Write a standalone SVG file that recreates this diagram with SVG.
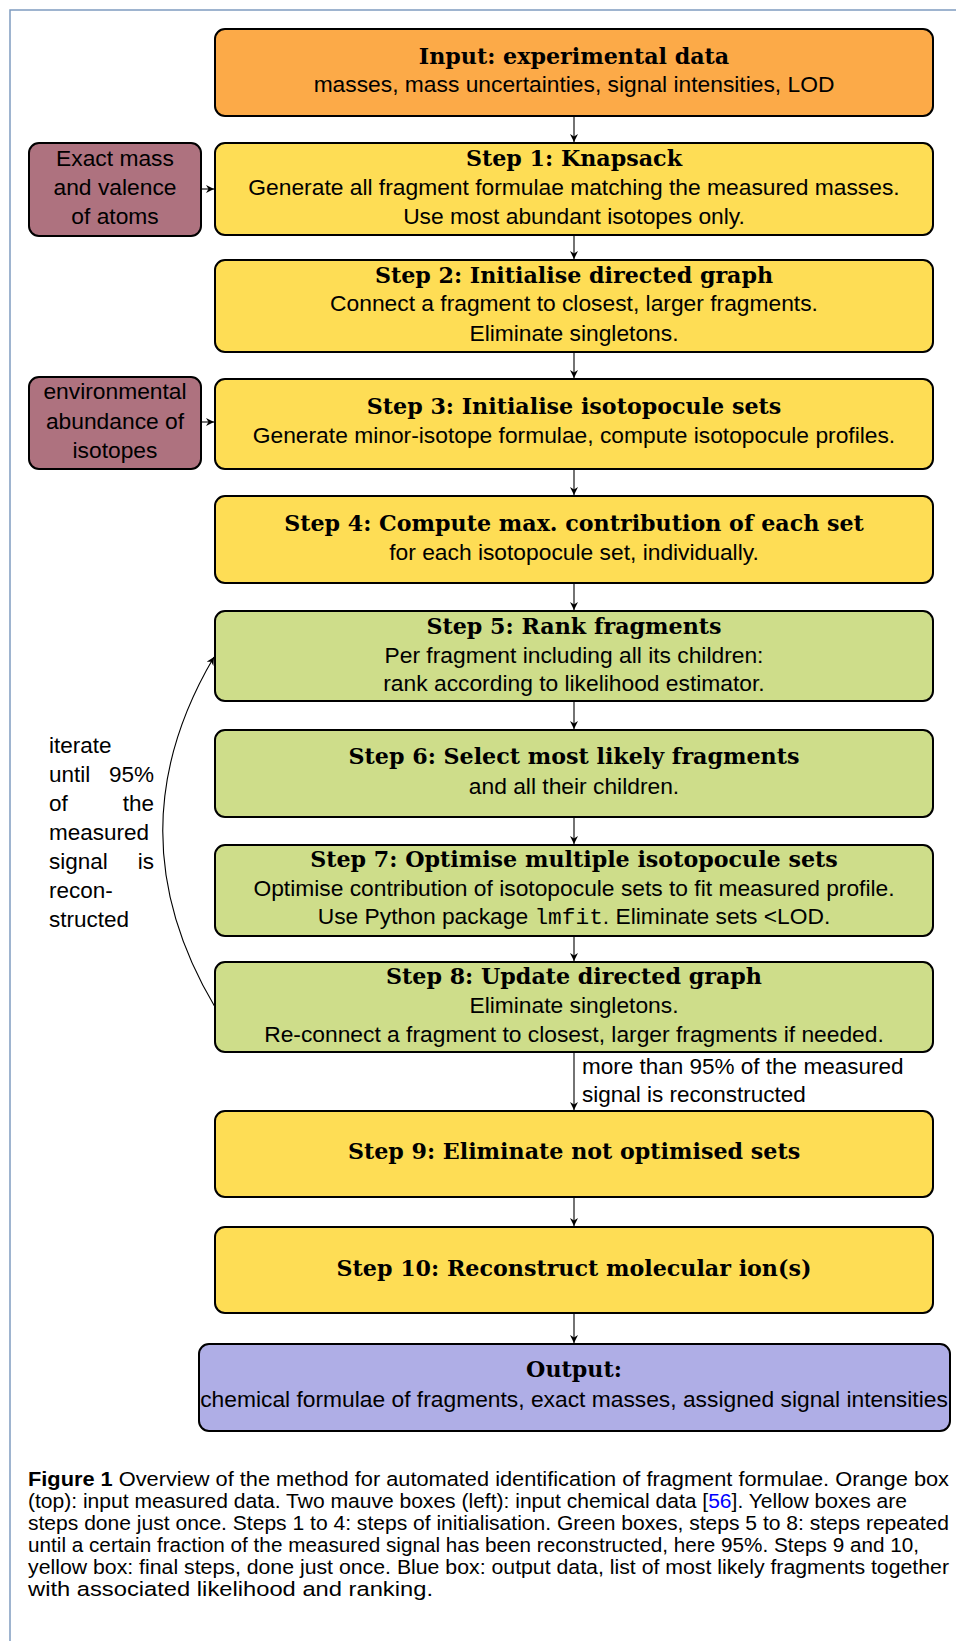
<svg xmlns="http://www.w3.org/2000/svg" width="956" height="1641" viewBox="0 0 956 1641">
<style>
.box{stroke:#000;stroke-width:2;}
.or{fill:#FCAA48;}
.ye{fill:#FEDD55;}
.gr{fill:#CEDD8A;}
.mv{fill:#AE727F;}
.bl{fill:#AFAEE6;}
.t{font-family:"DejaVu Serif",serif;font-weight:bold;font-size:22.2px;text-anchor:middle;fill:#000;}
.b{font-family:"Liberation Sans",Arial,sans-serif;font-size:22.8px;text-anchor:middle;fill:#000;}
.l{font-family:"Liberation Sans",Arial,sans-serif;font-size:22.5px;fill:#000;}
.c{font-family:"Liberation Sans",Arial,sans-serif;font-size:20.5px;fill:#000;}
.con{stroke:#000;stroke-width:1.1;fill:none;}
</style>
<defs>
<marker id="ah" markerWidth="10" markerHeight="10" refX="8" refY="4" orient="auto" markerUnits="userSpaceOnUse">
<path d="M0,0 L8,4 L0,8 L2.5,4 z" fill="#000"/>
</marker>
</defs>
<rect width="956" height="1641" fill="#fff"/>
<path d="M10,1641 V10 H956" fill="none" stroke="#7f9cc0" stroke-width="1.5"/>

<g id="input">
<rect class="box or" x="215" y="29" width="718" height="87" rx="10"/>
<text class="t" x="574" y="64">Input: experimental data</text>
<text class="b" x="574" y="92">masses, mass uncertainties, signal intensities, LOD</text>
</g>
<g id="step1">
<rect class="box ye" x="215" y="143" width="718" height="92" rx="10"/>
<text class="t" x="574" y="166">Step 1: Knapsack</text>
<text class="b" x="574" y="195">Generate all fragment formulae matching the measured masses.</text>
<text class="b" x="574" y="223.5">Use most abundant isotopes only.</text>
</g>
<g id="mass">
<rect class="box mv" x="29" y="143" width="172" height="93" rx="10"/>
<text class="b" x="115" y="166">Exact mass</text>
<text class="b" x="115" y="195">and valence</text>
<text class="b" x="115" y="223.5">of atoms</text>
</g>
<g id="step2">
<rect class="box ye" x="215" y="260" width="718" height="92" rx="10"/>
<text class="t" x="574" y="283">Step 2: Initialise directed graph</text>
<text class="b" x="574" y="311">Connect a fragment to closest, larger fragments.</text>
<text class="b" x="574" y="340.5">Eliminate singletons.</text>
</g>
<g id="step3">
<rect class="box ye" x="215" y="379" width="718" height="90" rx="10"/>
<text class="t" x="574" y="414">Step 3: Initialise isotopocule sets</text>
<text class="b" x="574" y="443">Generate minor-isotope formulae, compute isotopocule profiles.</text>
</g>
<g id="abund">
<rect class="box mv" x="29" y="377" width="172" height="92" rx="10"/>
<text class="b" x="115" y="399">environmental</text>
<text class="b" x="115" y="428.5">abundance of</text>
<text class="b" x="115" y="458">isotopes</text>
</g>
<g id="step4">
<rect class="box ye" x="215" y="496" width="718" height="87" rx="10"/>
<text class="t" x="574" y="531">Step 4: Compute max. contribution of each set</text>
<text class="b" x="574" y="560">for each isotopocule set, individually.</text>
</g>
<g id="step5">
<rect class="box gr" x="215" y="611" width="718" height="90" rx="10"/>
<text class="t" x="574" y="633.5">Step 5: Rank fragments</text>
<text class="b" x="574" y="663">Per fragment including all its children:</text>
<text class="b" x="574" y="691">rank according to likelihood estimator.</text>
</g>
<g id="step6">
<rect class="box gr" x="215" y="730" width="718" height="87" rx="10"/>
<text class="t" x="574" y="764">Step 6: Select most likely fragments</text>
<text class="b" x="574" y="793.5">and all their children.</text>
</g>
<g id="step7">
<rect class="box gr" x="215" y="845" width="718" height="91" rx="10"/>
<text class="t" x="574" y="867">Step 7: Optimise multiple isotopocule sets</text>
<text class="b" x="574" y="896">Optimise contribution of isotopocule sets to fit measured profile.</text>
<text class="b" x="574" y="924">Use Python package <tspan font-family="Liberation Mono,monospace">lmfit</tspan>. Eliminate sets &lt;LOD.</text>
</g>
<g id="step8">
<rect class="box gr" x="215" y="962" width="718" height="90" rx="10"/>
<text class="t" x="574" y="984">Step 8: Update directed graph</text>
<text class="b" x="574" y="1013">Eliminate singletons.</text>
<text class="b" x="574" y="1041.5">Re-connect a fragment to closest, larger fragments if needed.</text>
</g>
<g id="step9">
<rect class="box ye" x="215" y="1111" width="718" height="86" rx="10"/>
<text class="t" x="574" y="1159">Step 9: Eliminate not optimised sets</text>
</g>
<g id="step10">
<rect class="box ye" x="215" y="1227" width="718" height="86" rx="10"/>
<text class="t" x="574" y="1276">Step 10: Reconstruct molecular ion(s)</text>
</g>
<g id="output">
<rect class="box bl" x="199" y="1344" width="751" height="87" rx="10"/>
<text class="t" x="574" y="1377">Output:</text>
<text class="b" x="574" y="1406.5">chemical formulae of fragments, exact masses, assigned signal intensities</text>
</g>

<g id="connectors">
<line class="con" x1="574" y1="116" x2="574" y2="142" marker-end="url(#ah)"/>
<line class="con" x1="574" y1="235" x2="574" y2="259" marker-end="url(#ah)"/>
<line class="con" x1="574" y1="352" x2="574" y2="378" marker-end="url(#ah)"/>
<line class="con" x1="574" y1="469" x2="574" y2="495" marker-end="url(#ah)"/>
<line class="con" x1="574" y1="583" x2="574" y2="610" marker-end="url(#ah)"/>
<line class="con" x1="574" y1="701" x2="574" y2="729" marker-end="url(#ah)"/>
<line class="con" x1="574" y1="817" x2="574" y2="844" marker-end="url(#ah)"/>
<line class="con" x1="574" y1="936" x2="574" y2="961" marker-end="url(#ah)"/>
<line class="con" x1="574" y1="1052" x2="574" y2="1110" marker-end="url(#ah)"/>
<line class="con" x1="574" y1="1197" x2="574" y2="1226" marker-end="url(#ah)"/>
<line class="con" x1="574" y1="1313" x2="574" y2="1343" marker-end="url(#ah)"/>
<line class="con" x1="201" y1="189" x2="214" y2="189" marker-end="url(#ah)"/>
<line class="con" x1="201" y1="422" x2="214" y2="422" marker-end="url(#ah)"/>
<path class="con" d="M215,1007 Q111,831.5 214,657" marker-end="url(#ah)"/>
<text class="l" x="582" y="1074">more than 95% of the measured</text>
<text class="l" x="582" y="1102">signal is reconstructed</text>
<text class="l" x="49" y="753">iterate</text>
<text class="l" x="49" y="782">until</text>
<text class="l" x="154" y="782" text-anchor="end">95%</text>
<text class="l" x="49" y="811">of</text>
<text class="l" x="154" y="811" text-anchor="end">the</text>
<text class="l" x="49" y="840">measured</text>
<text class="l" x="49" y="869">signal</text>
<text class="l" x="154" y="869" text-anchor="end">is</text>
<text class="l" x="49" y="898">recon-</text>
<text class="l" x="49" y="927">structed</text>
</g>

<g id="caption">
<text class="c" x="28" y="1486" textLength="921" lengthAdjust="spacingAndGlyphs"><tspan font-weight="bold">Figure 1</tspan> Overview of the method for automated identification of fragment formulae. Orange box</text>
<text class="c" x="28" y="1508" textLength="879" lengthAdjust="spacingAndGlyphs">(top): input measured data. Two mauve boxes (left): input chemical data [<tspan fill="#0000ff">56</tspan>]. Yellow boxes are</text>
<text class="c" x="28" y="1530" textLength="921" lengthAdjust="spacingAndGlyphs">steps done just once. Steps 1 to 4: steps of initialisation. Green boxes, steps 5 to 8: steps repeated</text>
<text class="c" x="28" y="1552" textLength="891" lengthAdjust="spacingAndGlyphs">until a certain fraction of the measured signal has been reconstructed, here 95%. Steps 9 and 10,</text>
<text class="c" x="28" y="1574" textLength="921" lengthAdjust="spacingAndGlyphs">yellow box: final steps, done just once. Blue box: output data, list of most likely fragments together</text>
<text class="c" x="28" y="1596" textLength="405" lengthAdjust="spacingAndGlyphs">with associated likelihood and ranking.</text>
</g>
</svg>
